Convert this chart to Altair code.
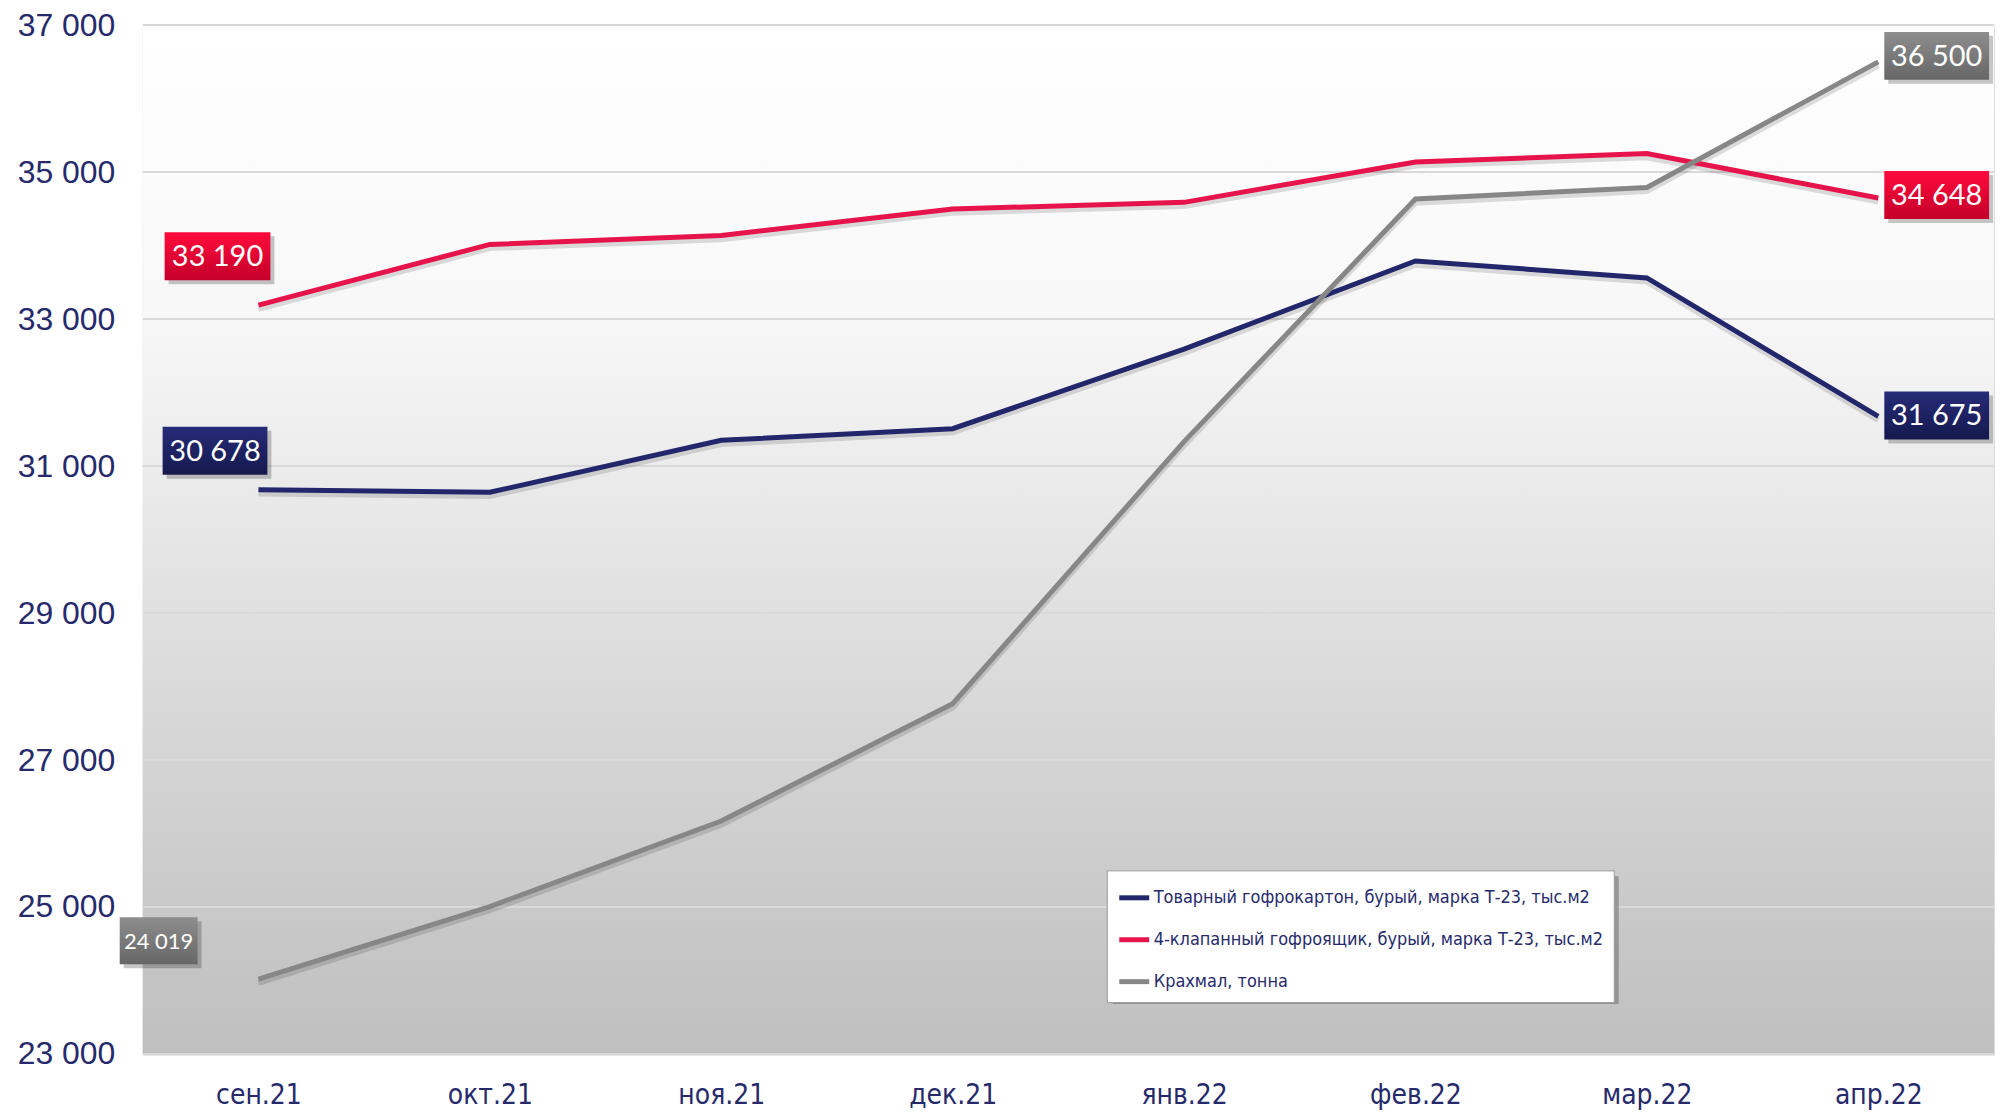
import altair as alt
import pandas as pd

# ---------------- data ----------------
months = ["сен.21", "окт.21", "ноя.21", "дек.21", "янв.22", "фев.22", "мар.22", "апр.22"]
series_names = [
    "Товарный гофрокартон, бурый, марка Т-23, тыс.м2",
    "4-клапанный гофроящик, бурый, марка Т-23, тыс.м2",
    "Крахмал, тонна",
]
karton = [30678, 30643, 31350, 31508, 32590, 33790, 33560, 31675]
yashchik = [33190, 34015, 34137, 34498, 34588, 35138, 35251, 34648]
krakhmal = [24019, 25006, 26170, 27766, 31332, 34633, 34791, 36500]
y_ticks = [23000, 25000, 27000, 29000, 31000, 33000, 35000, 37000]

# ---------------- styles ----------------
NAVY = "#22266a"
RED = "#e6144a"
GRAY = "#878787"
line_colors = [NAVY, RED, GRAY]
AXIS_TXT = "#262a6b"
NARROW = "DejaVu Sans Condensed, sans-serif"
ARIAL = "Liberation Sans, Arial, sans-serif"
CALIBRI = "Lato, Open Sans, sans-serif"
W, H = 1855, 1031
LEG_X, LEG_Y, LEG_W, LEG_H = 966, 847, 507, 128

rows = []
for name, vals in zip(series_names, [karton, yashchik, krakhmal]):
    for i, (m, v) in enumerate(zip(months, vals)):
        rows.append({"month": m, "idx": i, "series": name, "value": v,
                     "label": f"{v:,}".replace(",", " ")})
df = pd.DataFrame(rows)

X_AXIS = alt.Axis(labelFont=NARROW, labelFontSize=28, labelColor=AXIS_TXT,
                  labelPadding=42, ticks=False, domainColor="#d0d0d0",
                  domainWidth=2, labelAngle=0, labelAlign="center", labelBaseline="middle",
                  title=None)
Y_AXIS = alt.Axis(values=y_ticks, grid=False, ticks=False, domain=False,
                  labelExpr="replace(format(datum.value, ','), ',', ' ')",
                  labelFont=ARIAL, labelFontSize=32, labelColor=AXIS_TXT,
                  labelPadding=28, title=None)

x_scale = alt.Scale(type="point", padding=0.5)
y_scale = alt.Scale(domain=[23000, 37000], nice=False, zero=False)
x_enc = alt.X("month:N", sort=months, scale=x_scale, axis=X_AXIS)

bg_grad = alt.LinearGradient(
    gradient="linear", x1=0, x2=0, y1=0, y2=1,
    stops=[
        alt.GradientStop(offset=0, color="#ffffff"),
        alt.GradientStop(offset=0.27, color="#f8f8f8"),
        alt.GradientStop(offset=0.40, color="#eeeeee"),
        alt.GradientStop(offset=0.70, color="#d5d5d5"),
        alt.GradientStop(offset=0.90, color="#c6c6c6"),
        alt.GradientStop(offset=1, color="#c0c0c0"),
    ],
)

background = alt.Chart(pd.DataFrame({"a": [0]})).mark_rect(fill=bg_grad).encode(
    x=alt.value(0), x2=alt.value(W), y=alt.value(0), y2=alt.value(H)
)

grid = alt.Chart(pd.DataFrame({"t": y_ticks})).mark_rule(color="#d9d9d9", strokeWidth=2).encode(
    y=alt.Y("t:Q", scale=y_scale, axis=Y_AXIS),
    x=alt.value(0), x2=alt.value(W),
)

shadow = alt.Chart(df).transform_calculate(
    sv="datum.value - 50"
).mark_line(strokeWidth=6, opacity=0.13, color="#000000").encode(
    x=x_enc, y=alt.Y("sv:Q", scale=y_scale, axis=Y_AXIS), detail="series:N"
)

lines = alt.Chart(df).mark_line(strokeWidth=5).encode(
    x=x_enc,
    y=alt.Y("value:Q", scale=y_scale, axis=Y_AXIS),
    color=alt.Color("series:N", scale=alt.Scale(domain=series_names, range=line_colors),
                    legend=alt.Legend(orient="none", legendX=LEG_X, legendY=LEG_Y, title=None,
                                      labelFont=NARROW, labelFontSize=18, labelColor=AXIS_TXT,
                                      symbolType="stroke", symbolStrokeWidth=5, symbolSize=900,
                                      labelOffset=2, padding=10, rowPadding=14,
                                      fillColor="#ffffff", strokeColor="#9a9a9a",
                                      labelLimit=1000)),
)

legend_shadow = alt.Chart(pd.DataFrame({"a": [0]})).mark_rect(color="#6e6e6e", opacity=0.55).encode(
    x=alt.value(LEG_X + 6), x2=alt.value(LEG_X + LEG_W + 6),
    y=alt.value(LEG_Y + 6), y2=alt.value(LEG_Y + LEG_H + 6)
)


def grad(top, bottom):
    return alt.LinearGradient(gradient="linear", x1=0, x2=0, y1=0, y2=1,
                              stops=[alt.GradientStop(offset=0, color=top),
                                     alt.GradientStop(offset=1, color=bottom)])


def box_path(x0, x1, y0, y1, s=100.0):
    a, b, c, d = x0 / s, x1 / s, y0 / s, y1 / s
    return f"M{a},{c}L{b},{c}L{b},{d}L{a},{d}Z"


# label box placement (pixel offsets relative to the data point)
label_specs = [
    (series_names[1], 0, -94, 12, -73, -25, CALIBRI, 29, grad("#ff0a3c", "#c4002a")),
    (series_names[0], 0, -96, 9, -63, -15, CALIBRI, 29, grad("#262b78", "#15194d")),
    (series_names[2], 0, -139, -61, -62, -15, CALIBRI, 22, grad("#8e8e8e", "#666666")),
    (series_names[2], 7, 6, 111, -30, 18, CALIBRI, 29, grad("#8e8e8e", "#666666")),
    (series_names[1], 7, 6, 111, -27, 21, CALIBRI, 29, grad("#ff0a3c", "#c4002a")),
    (series_names[0], 7, 6, 111, -25, 23, CALIBRI, 29, grad("#262b78", "#15194d")),
]

label_layers = []
for sname, idx, x0, x1, y0, y1, font, fsize, g in label_specs:
    base = alt.Chart(df).transform_filter(
        (alt.datum.series == sname) & (alt.datum.idx == idx)
    ).encode(x=x_enc, y=alt.Y("value:Q", scale=y_scale, axis=Y_AXIS))
    sh = base.mark_point(shape=box_path(x0 + 4, x1 + 4, y0 + 4, y1 + 4), size=40000,
                         filled=True, fill="#000000", opacity=0.22, strokeWidth=0)
    box = base.mark_point(shape=box_path(x0, x1, y0, y1), size=40000,
                          filled=True, fill=g, opacity=1, strokeWidth=0)
    txt = base.mark_text(dx=(x0 + x1) / 2, dy=(y0 + y1) / 2 + 1, align="center", baseline="middle",
                         font=font, fontSize=fsize, color="#ffffff").encode(text="label:N")
    label_layers += [sh, box, txt]

chart = alt.layer(background, grid, shadow, lines, legend_shadow, *label_layers).properties(
    width=W, height=H,
    autosize=alt.AutoSizeParams(type="none"),
    padding={"left": 135, "top": 16, "right": 5, "bottom": 56},
).configure_view(stroke="#8c8c8c", strokeWidth=2).configure(background="#ffffff")

chart.save("out.html", embed_options={"renderer": "svg", "actions": False})
